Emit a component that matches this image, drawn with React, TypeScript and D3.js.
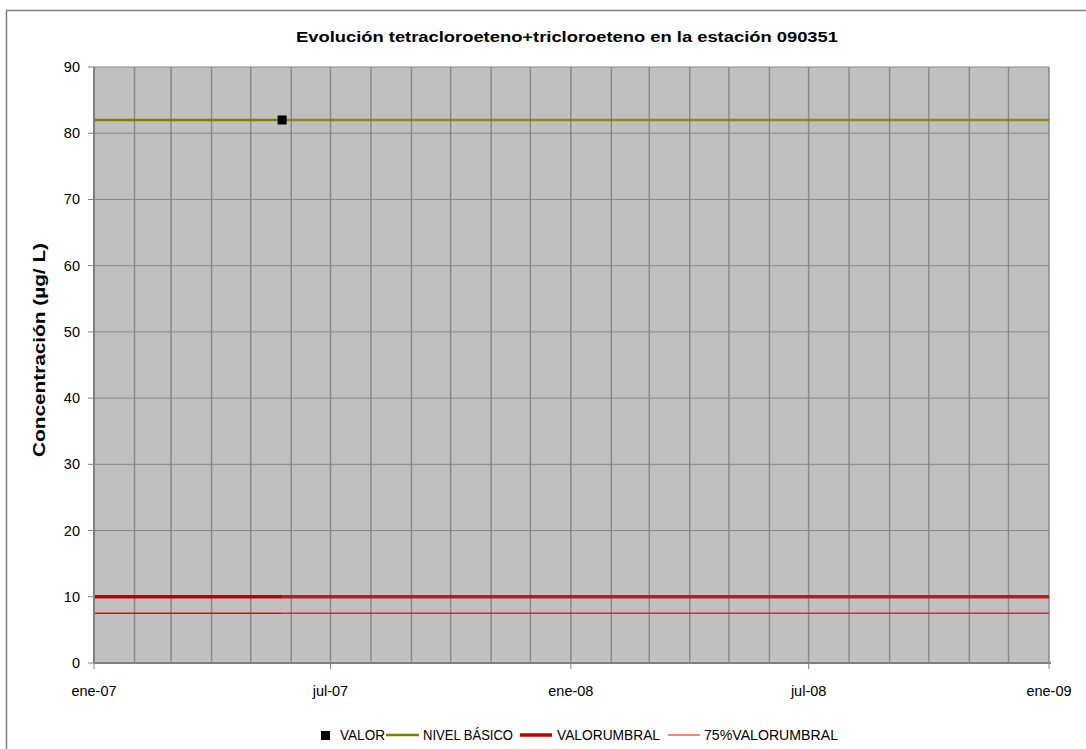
import React from "react";
import * as d3 from "d3";

const title = "Evolución tetracloroeteno+tricloroeteno en la estación 090351";
const yLabel = "Concentración (µg/ L)";
const valorDates = ["2007-05-25"];
const valorValues = [82];
const seriesDates = ["2007-01-01", "2007-05-25", "2009-01-01"];
const nivelBasico = [82, 82, 82];
const valorUmbral = [10, 10, 10];
const umbral75 = [7.5, 7.5, 7.5];
const yTicks = [0, 10, 20, 30, 40, 50, 60, 70, 80, 90];
const xTickLabels = ["ene-07", "jul-07", "ene-08", "jul-08", "ene-09"];
const xTickDates = ["2007-01-01", "2007-07-01", "2008-01-01", "2008-07-01", "2009-01-01"];

const W = 1086, H = 749;
const left = 94, right = 1049, top = 67, bottom = 663;
const font = "'Liberation Sans', Arial, sans-serif";

export default function App() {
  const parse = d3.timeParse("%Y-%m-%d");
  const x = d3.scaleTime().domain([parse("2007-01-01")!, parse("2009-01-01")!]).range([left, right]);
  const y = d3.scaleLinear().domain([0, 90]).range([bottom, top]);
  const months = d3.timeMonth.range(parse("2007-01-01")!, d3.timeDay.offset(parse("2009-01-01")!, 1));
  const dates = seriesDates.map((d) => parse(d)!);
  const line = d3.line<[Date, number]>().x((d) => x(d[0])).y((d) => y(d[1]));

  const seg = (vals: number[], i0: number, i1: number) =>
    line(dates.slice(i0, i1 + 1).map((d, i) => [d, vals[i0 + i]] as [Date, number])) || "";

  const series = [
    { vals: nivelBasico, color: "#808000", w: 2.5 },
    { vals: valorUmbral, color: "#C00000", w: 3.5 },
    { vals: umbral75, color: "#FF0000", w: 1.5 },
  ];

  return (
    <svg width={W} height={H} style={{ position: "absolute", left: 0, top: 0, background: "#fff" }}>
      <rect x={6.5} y={10.5} width={1200} height={900} fill="#fff" stroke="#808080" strokeWidth={1.5} />
      <text x={567} y={42} textAnchor="middle" fontFamily={font} fontWeight="bold" fontSize={15} textLength={542} lengthAdjust="spacingAndGlyphs">
        {title}
      </text>
      <rect x={left} y={top} width={right - left} height={bottom - top} fill="#C0C0C0" />
      {months.map((m, i) => (
        <line key={"vg" + i} x1={x(m)} x2={x(m)} y1={top} y2={bottom} stroke="#8a8a8a" strokeWidth={1.5} />
      ))}
      {yTicks.map((t) => (
        <line key={"hg" + t} x1={left} x2={right} y1={y(t)} y2={y(t)} stroke="#8a8a8a" strokeWidth={1} />
      ))}
      {series.map((s, i) => (
        <g key={"s" + i}>
          <path d={seg(s.vals, 0, 1)} stroke={s.color} strokeWidth={s.w} fill="none" />
          <path d={seg(s.vals, 1, 2)} stroke={s.color} strokeWidth={s.w} fill="none" opacity={0.85} />
        </g>
      ))}
      {valorDates.map((d, i) => (
        <rect key={"p" + i} x={x(parse(d)!) - 4.5} y={y(valorValues[i]) - 4.5} width={9} height={9} fill="#000" />
      ))}
      <line x1={left} x2={left} y1={top} y2={bottom} stroke="#808080" strokeWidth={2} />
      <line x1={left} x2={right + 2} y1={bottom} y2={bottom} stroke="#808080" strokeWidth={2} />
      {yTicks.map((t) => (
        <g key={"yt" + t}>
          <line x1={left - 6} x2={left} y1={y(t)} y2={y(t)} stroke="#808080" strokeWidth={1} />
          <text x={left - 14} y={y(t) + 5} textAnchor="end" fontFamily={font} fontSize={14.5}>
            {t}
          </text>
        </g>
      ))}
      {xTickDates.map((d, i) => (
        <g key={"xt" + i}>
          <line x1={x(parse(d)!)} x2={x(parse(d)!)} y1={bottom} y2={bottom + 6} stroke="#808080" strokeWidth={1} />
          <text x={x(parse(d)!)} y={bottom + 33} textAnchor="middle" fontFamily={font} fontSize={14.5}>
            {xTickLabels[i]}
          </text>
        </g>
      ))}
      <text
        transform={`translate(45,350) rotate(-90)`}
        textAnchor="middle"
        fontFamily={font}
        fontWeight="bold"
        fontSize={16}
        textLength={214}
        lengthAdjust="spacingAndGlyphs"
      >
        {yLabel}
      </text>
      <g fontFamily={font} fontSize={14}>
        <rect x={321} y={731} width={9} height={9} fill="#000" />
        <text x={340} y={740} textLength={45} lengthAdjust="spacingAndGlyphs">VALOR</text>
        <line x1={386} x2={419} y1={735} y2={735} stroke="#808000" strokeWidth={2.5} />
        <text x={423} y={740} textLength={90} lengthAdjust="spacingAndGlyphs">NIVEL BÁSICO</text>
        <line x1={520} x2={552} y1={735} y2={735} stroke="#C00000" strokeWidth={3.5} />
        <text x={557} y={740} textLength={103} lengthAdjust="spacingAndGlyphs">VALORUMBRAL</text>
        <line x1={668} x2={700} y1={735} y2={735} stroke="#FF0000" strokeWidth={1} />
        <text x={704} y={740} textLength={134} lengthAdjust="spacingAndGlyphs">75%VALORUMBRAL</text>
      </g>
    </svg>
  );
}
